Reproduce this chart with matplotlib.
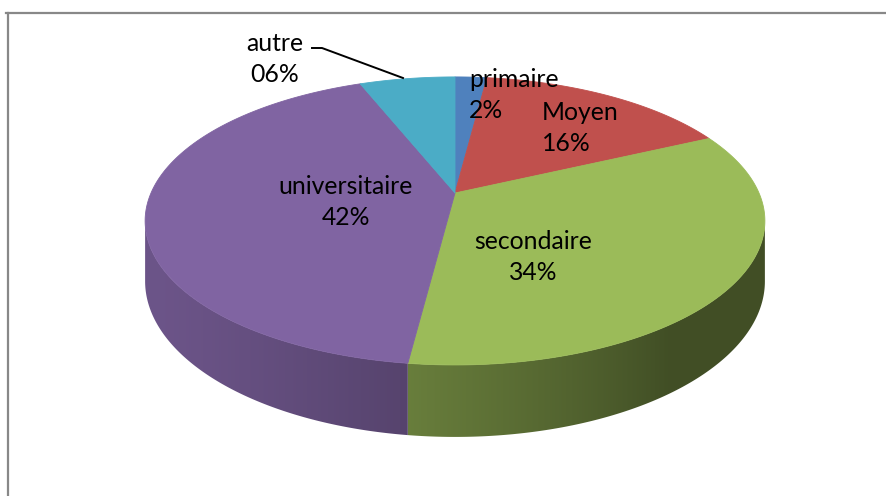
import numpy as np
import matplotlib
matplotlib.use('Agg')
import matplotlib.pyplot as plt
from matplotlib.patches import Polygon
from matplotlib.lines import Line2D
import matplotlib.colors as mcolors

# data
categories = ['primaire', 'Moyen', 'secondaire', 'universitaire', 'autre']
values = [2, 16, 34, 42, 6]
pct_labels = ['2%', '16%', '34%', '42%', '06%']
colors = ['#4F81BD', '#C0504D', '#9BBB59', '#8064A2', '#4BACC6']

W, H = 887, 496
fig = plt.figure(figsize=(W / 100, H / 100), dpi=100)
ax = fig.add_axes([0, 0, 1, 1])
ax.set_xlim(0, W)
ax.set_ylim(H, 0)
ax.axis('off')

# simple perspective for the 3d pie (pixel coords)
CX, CY = 455, 193
A, B, P, DEPTH = 304, 138.6, 0.194, 58


def proj(t, z=0.0):
    s = 1 + P * np.sin(t)
    return CX + A * np.cos(t) / s, CY - B * np.sin(t) / s + z * DEPTH / s


def shade(t):
    # light from front-left
    d = -0.7 * np.cos(t) - 0.3 * np.sin(t)
    return np.maximum(0.42, 0.5 + 0.45 * d)


frac = np.array(values, dtype=float) / sum(values)
cum = np.concatenate([[0], np.cumsum(frac)])
t_start = np.pi / 2 - 2 * np.pi * cum[:-1]
t_end = np.pi / 2 - 2 * np.pi * cum[1:]

# shading along screen x for the front wall
lo, hi = -np.pi + np.arcsin(P), -np.arcsin(P)
t_grid = np.linspace(lo, hi, 600)
x_grid = proj(t_grid)[0]
x_img = np.linspace(x_grid[0], x_grid[-1], 800)
sh = shade(np.interp(x_img, x_grid, t_grid))

# side walls
for i, c in enumerate(colors):
    rgb = np.array(mcolors.to_rgb(c))
    for k in (-2, 0, 2):
        a = max(t_end[i] + k * np.pi, lo)
        b = min(t_start[i] + k * np.pi, hi)
        if b <= a:
            continue
        ts = np.linspace(a, b, 200)
        xt, yt = proj(ts)
        xb, yb = proj(ts[::-1], 1)
        poly = Polygon(list(zip(xt, yt)) + list(zip(xb, yb)), closed=True,
                       fc='none', ec='none')
        ax.add_patch(poly)
        img = (sh[:, None] * rgb[None, :])[None, :, :]
        im = ax.imshow(img, extent=(x_img[0], x_img[-1], H, 0),
                       aspect='auto', interpolation='bilinear', zorder=1)
        im.set_clip_path(poly)

# top faces
for i, c in enumerate(colors):
    ts = np.linspace(t_start[i], t_end[i], 200)
    xs, ys = proj(ts)
    pts = [(CX, CY)] + list(zip(xs, ys))
    ax.add_patch(Polygon(pts, closed=True, fc=c, ec=c, lw=0.6, zorder=2))

ax.set_xlim(0, W)
ax.set_ylim(H, 0)

# labels
font = ['Lato', 'DejaVu Sans']
label_pos = {
    'primaire': (469, 118, 'left'),
    'Moyen': (542, 151, 'left'),
    'secondaire': (533, 280, 'center'),
    'universitaire': (346, 225, 'center'),
    'autre': (275, 82, 'center'),
}
for name, pct in zip(categories, pct_labels):
    x, y, ha = label_pos[name]
    ax.text(x, y, name + '\n' + pct, ha=ha, va='baseline', multialignment=ha,
            fontsize=17.8, family=font, color='black', linespacing=1.4, zorder=5)

# leader line for autre
ax.add_line(Line2D([312, 322, 403], [48, 48, 78], color='black', lw=1.4, zorder=5))

# chart border
ax.add_line(Line2D([6, W], [13, 13], color='#888888', lw=1.6))
ax.add_line(Line2D([8, 8], [13, H], color='#888888', lw=1.6))

fig.savefig('out.png', dpi=100)
